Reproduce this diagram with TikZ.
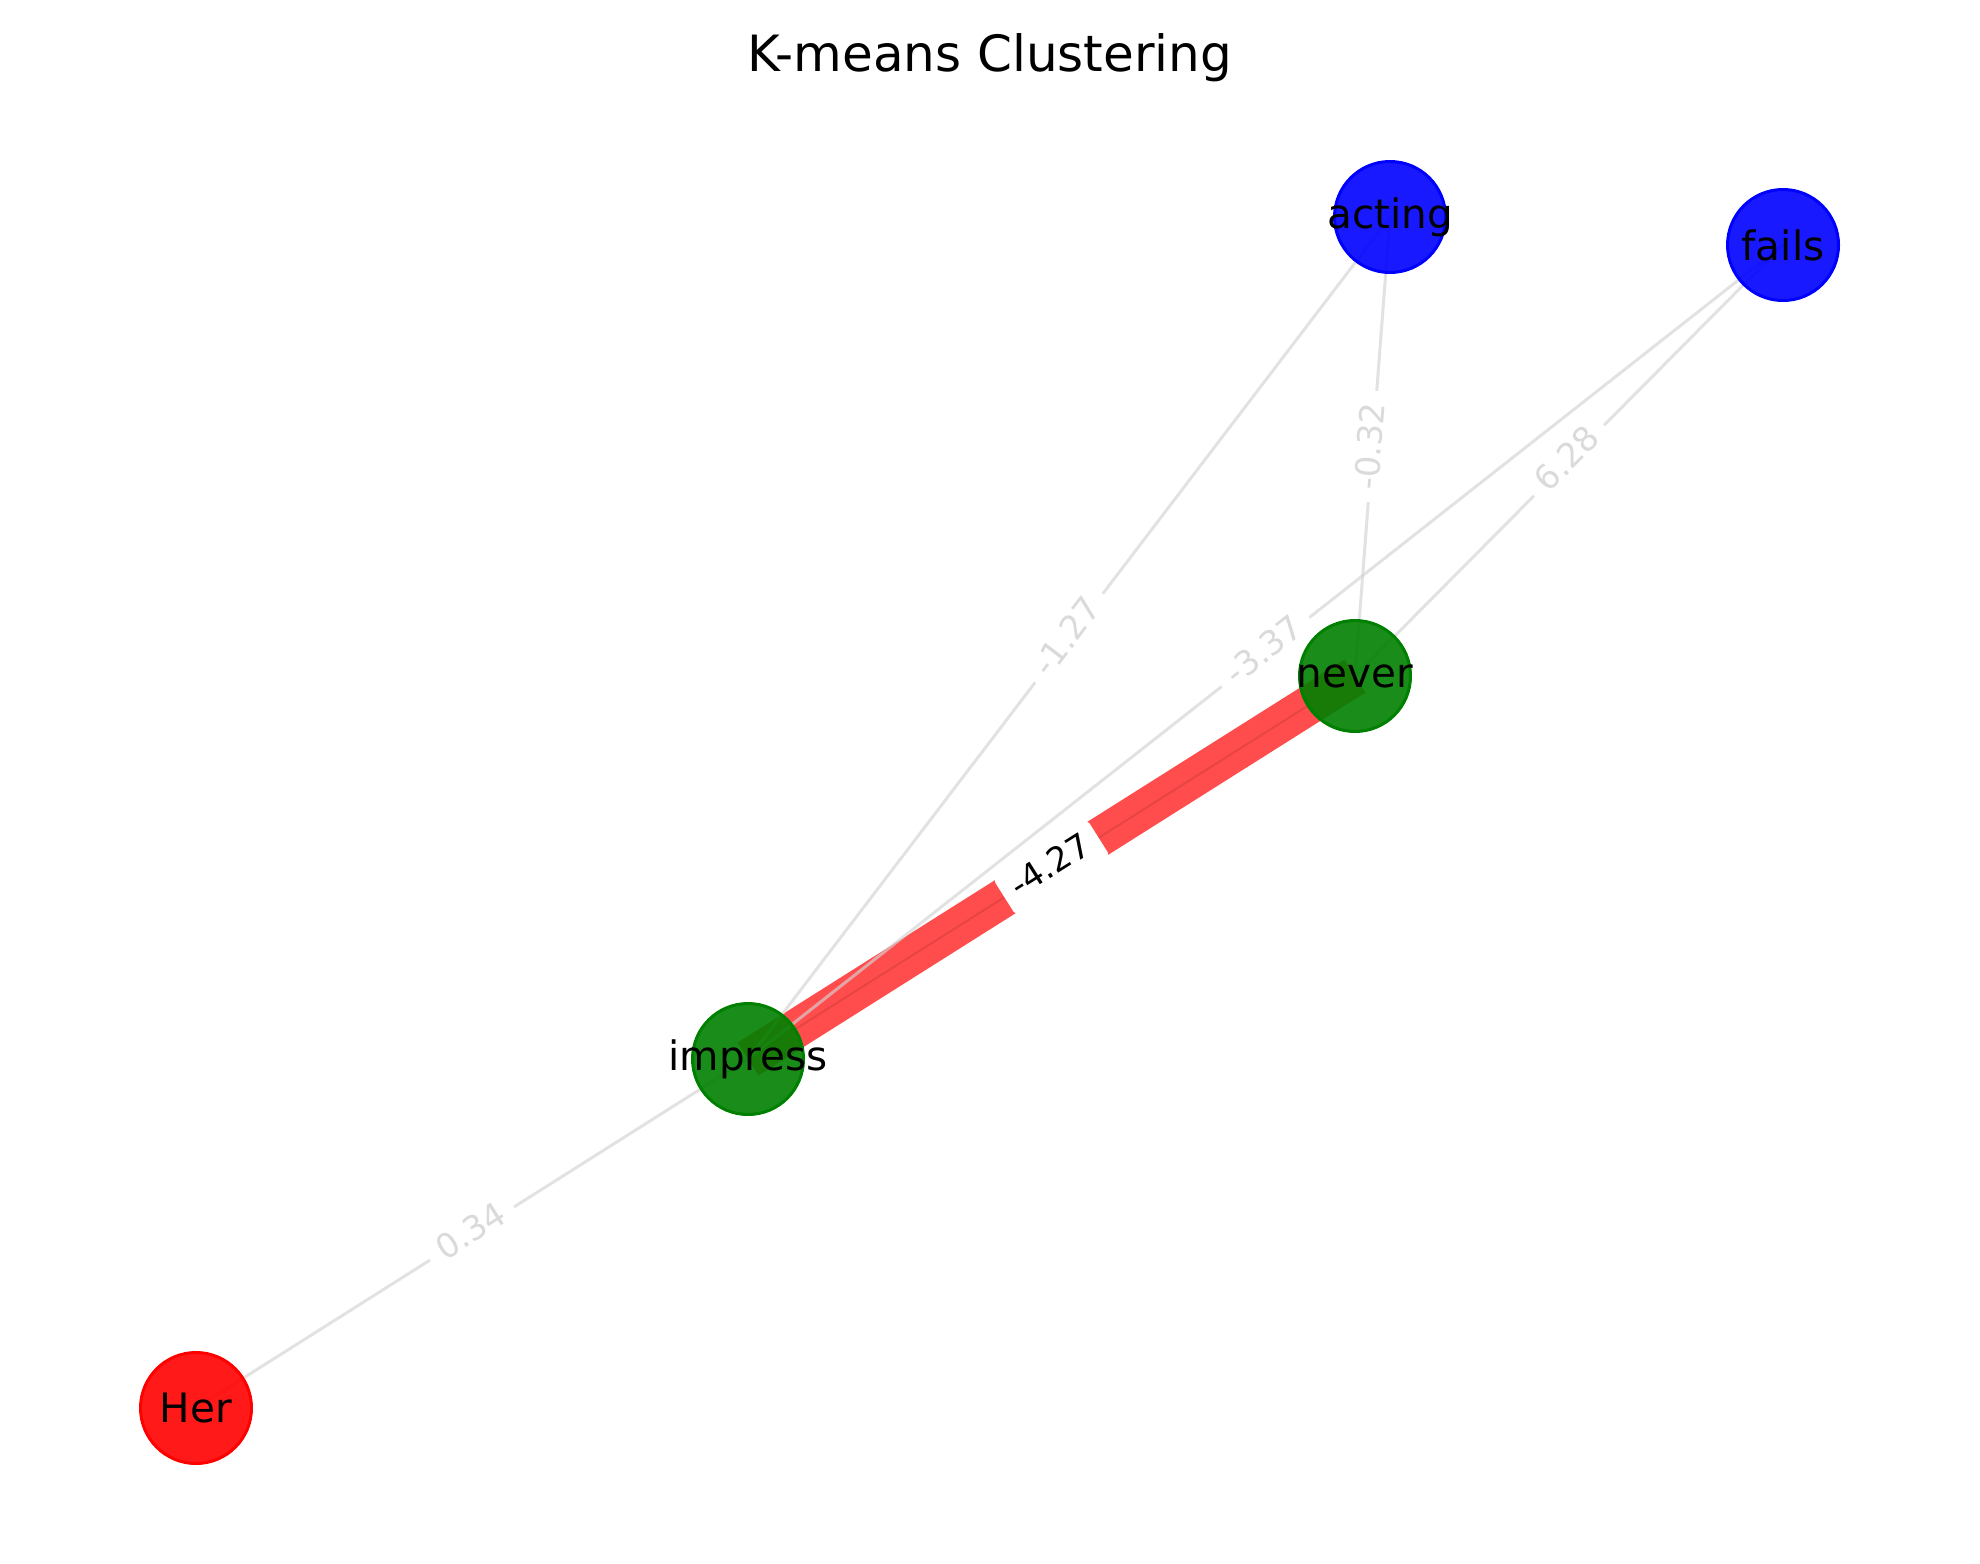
\documentclass[tikz,border=0pt]{standalone}
\usepackage{fontspec}
\setmainfont{DejaVu Sans}
\definecolor{nred}{RGB}{255,0,0}
\definecolor{nblue}{RGB}{0,0,255}
\definecolor{ngreen}{RGB}{0,128,0}
\definecolor{ered}{RGB}{255,77,77}
\definecolor{eredmid}{RGB}{232,68,68}
\definecolor{egray}{RGB}{211,211,211}
\definecolor{lgray}{RGB}{218,218,218}
\pgfdeclarelayer{bg}
\pgfdeclarelayer{fg}
\pgfsetlayers{bg,main,fg}
\newcommand{\ctext}[1]{\makebox[0pt][c]{#1}}
\begin{document}
\begin{tikzpicture}[x=1pt,y=-1pt,
  nd/.style={circle, minimum size=111pt, inner sep=0pt, line width=3pt,
    fill opacity=0.9, text opacity=1, text=black,
    font=\fontsize{40.5}{48}\selectfont},
  rednode/.style={nd, fill=nred, draw=nred},
  bluenode/.style={nd, fill=nblue, draw=nblue},
  greennode/.style={nd, fill=ngreen, draw=ngreen},
  grayedge/.style={draw=egray, draw opacity=0.65, line width=3pt},
  heavyedge/.style={draw=ered, line width=39pt},
  elabel/.style={midway, sloped, fill=white, rounded corners=5pt,
    inner xsep=12pt, inner ysep=5pt, text=lgray,
    text height=26pt, text depth=8pt,
    font=\fontsize{33.75}{40}\selectfont},
  elabeldark/.style={elabel, text=black}]
\useasboundingbox (0,0) rectangle (1980,1563);
\node[font=\fontsize{50}{60}\selectfont, anchor=base] (title) at (990,71) {K-means Clustering};
\node[rednode] (her) at (196,1408) {\ctext{Her}};
\node[greennode] (impress) at (748,1059) {\ctext{impress}};
\node[greennode] (never) at (1355,676) {\ctext{never}};
\node[bluenode] (acting) at (1390,217) {\ctext{acting}};
\node[bluenode] (fails) at (1783,245) {\ctext{fails}};
\begin{pgfonlayer}{bg}
  \draw[heavyedge] (impress.center) -- (never.center);
  \draw[draw=eredmid, line width=2pt] (impress.center) -- (never.center);
  \draw[grayedge] (her.center) -- (impress.center);
  \draw[grayedge] (acting.center) -- (impress.center);
  \draw[grayedge] (never.center) -- (acting.center);
  \draw[grayedge] (fails.center) -- (impress.center);
  \draw[grayedge] (fails.center) -- (never.center);
  \path (impress.center) -- (never.center) node[elabeldark] (l1) {-4.27};
  \path (her.center) -- (impress.center) node[elabel] (l2) {0.34};
  \path (impress.center) -- (acting.center) node[elabel] (l3) {-1.27};
  \path (never.center) -- (acting.center) node[elabel] (l4) {-0.32};
  \path (impress.center) -- (fails.center) node[elabel] (l5) {-3.37};
  \path (never.center) -- (fails.center) node[elabel] (l6) {6.28};
\end{pgfonlayer}
\end{tikzpicture}
\end{document}
